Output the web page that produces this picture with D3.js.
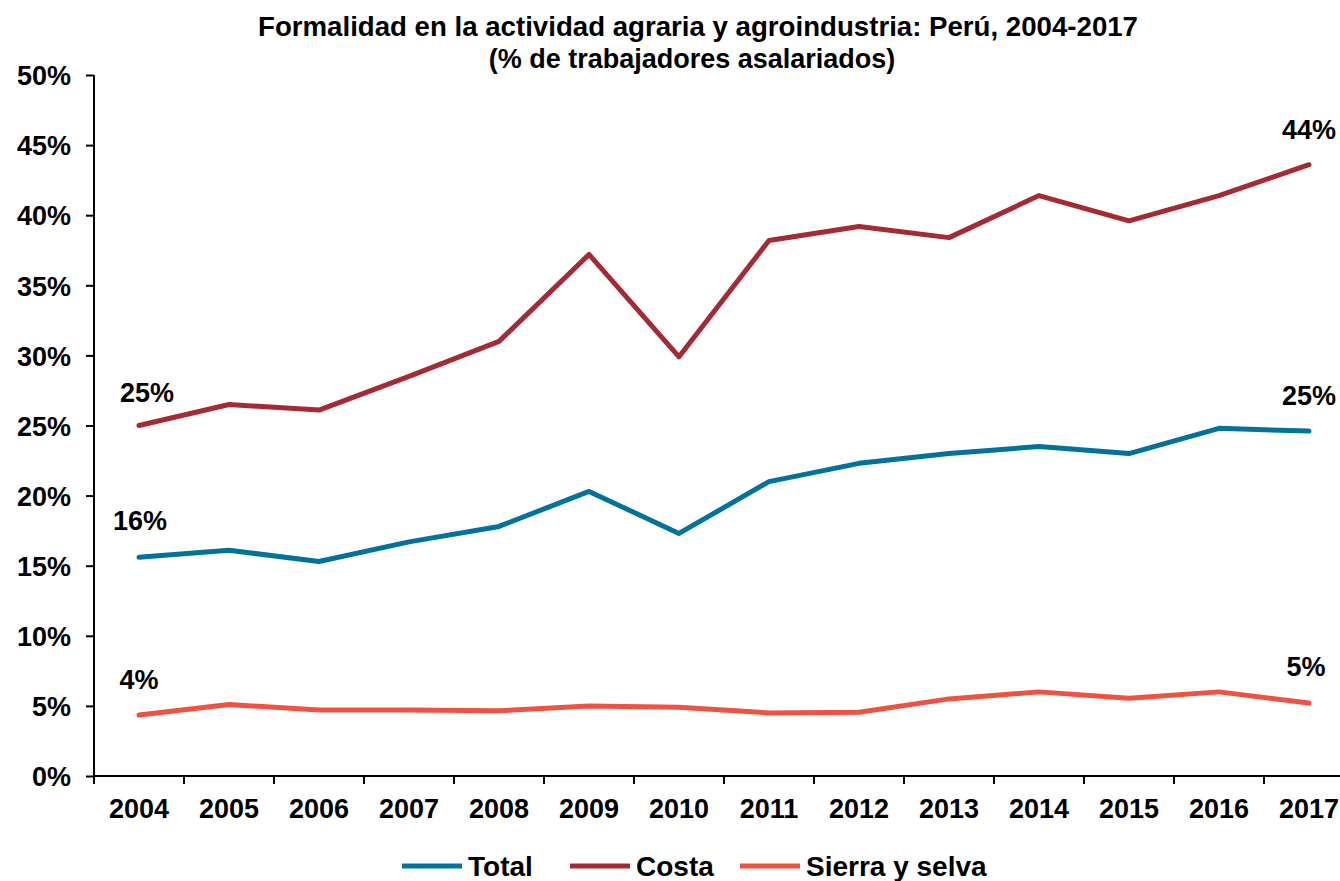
<!DOCTYPE html>
<html>
<head>
<meta charset="utf-8">
<style>
body { margin: 0; background: #fff; }
text { font-family: "Liberation Sans", Arial, sans-serif; font-weight: bold; fill: #000; }
</style>
</head>
<body>
<svg width="1340" height="881"></svg>
<script src="https://d3js.org/d3.v7.min.js"></script>
<script>
// values (percent of salaried workers)
var years = ["2004","2005","2006","2007","2008","2009","2010","2011","2012","2013","2014","2015","2016","2017"];
var total = [15.6, 16.1, 15.3, 16.7, 17.8, 20.3, 17.3, 21.0, 22.3, 23.0, 23.5, 23.0, 24.8, 24.6];
var costa = [25.0, 26.5, 26.1, 28.5, 31.0, 37.2, 29.9, 38.2, 39.2, 38.4, 41.4, 39.6, 41.4, 43.6];
var sierra = [4.35, 5.1, 4.7, 4.7, 4.65, 5.0, 4.9, 4.5, 4.55, 5.5, 6.0, 5.55, 6.0, 5.2];
var yTicks = [0, 5, 10, 15, 20, 25, 30, 35, 40, 45, 50];

var series = [
  {name: "Total", values: total, color: "#00729C"},
  {name: "Costa", values: costa, color: "#A52A33"},
  {name: "Sierra y selva", values: sierra, color: "#EF5143"}
];

var svg = d3.select("svg");

var x = d3.scaleBand().domain(years).range([94, 1354]);
var y = d3.scaleLinear().domain([0, 50]).range([776, 75]);

// title
svg.append("text").attr("x", 698).attr("y", 36).attr("text-anchor", "middle")
  .style("font-size", "27px").attr("textLength", 880).attr("lengthAdjust", "spacingAndGlyphs")
  .text("Formalidad en la actividad agraria y agroindustria: Perú, 2004-2017");
svg.append("text").attr("x", 692).attr("y", 68).attr("text-anchor", "middle")
  .style("font-size", "27px").text("(% de trabajadores asalariados)");

// y axis
var gy = svg.append("g").attr("transform", "translate(94,0)")
  .call(d3.axisLeft(y).tickValues(yTicks).tickSize(8).tickPadding(15).tickFormat(function(d){ return d + "%"; }));
gy.selectAll("text").style("font-size", "27px").attr("dy", "0.36em");
gy.selectAll("line, path").attr("stroke", "#000").attr("stroke-width", 2);
gy.select(".domain").attr("d", "M0,75V776");

// x axis
var gx = svg.append("g").attr("transform", "translate(0,776)");
gx.append("line").attr("x1", 94).attr("x2", 1354).attr("stroke", "#000").attr("stroke-width", 2);
gx.selectAll("line.tk").data(years.concat(["end"])).enter().append("line")
  .attr("class", "tk")
  .attr("x1", function(d, i){ return 94 + i * x.step(); })
  .attr("x2", function(d, i){ return 94 + i * x.step(); })
  .attr("y1", 0).attr("y2", 8).attr("stroke", "#000").attr("stroke-width", 2);
gx.selectAll("text").data(years).enter().append("text")
  .attr("x", function(d){ return x(d) + x.bandwidth() / 2; })
  .attr("y", 42).attr("text-anchor", "middle").style("font-size", "27px")
  .text(function(d){ return d; });

// lines
var line = d3.line()
  .x(function(d, i){ return x(years[i]) + x.bandwidth() / 2; })
  .y(function(d){ return y(d); });

svg.selectAll("path.series").data(series).enter().append("path")
  .attr("class", "series")
  .attr("d", function(d){ return line(d.values); })
  .attr("fill", "none")
  .attr("stroke", function(d){ return d.color; })
  .attr("stroke-width", 5)
  .attr("stroke-linejoin", "round")
  .attr("stroke-linecap", "round");

// end labels
var cx0 = x(years[0]) + x.bandwidth() / 2;
var cx1 = x(years[years.length - 1]) + x.bandwidth() / 2;
var labels = [
  {x: cx0 + 8, v: costa[0], dy: -24},
  {x: cx0 + 1, v: total[0], dy: -27},
  {x: cx0, v: sierra[0], dy: -26},
  {x: cx1, v: costa[13], dy: -26},
  {x: cx1, v: total[13], dy: -26},
  {x: cx1 - 3, v: sierra[13], dy: -27}
];
svg.selectAll("text.lbl").data(labels).enter().append("text")
  .attr("class", "lbl")
  .attr("x", function(d){ return d.x; })
  .attr("y", function(d){ return y(d.v) + d.dy; })
  .attr("text-anchor", "middle").style("font-size", "27px")
  .text(function(d){ return Math.round(d.v) + "%"; });

// legend
var legX = [402, 570, 740];
var leg = svg.selectAll("g.leg").data(series).enter().append("g")
  .attr("class", "leg")
  .attr("transform", function(d, i){ return "translate(" + legX[i] + ",866)"; });
leg.append("line").attr("x1", 0).attr("x2", 60)
  .attr("stroke", function(d){ return d.color; }).attr("stroke-width", 5);
leg.append("text").attr("x", 66).attr("y", 10).style("font-size", "28px")
  .text(function(d){ return d.name; });
</script>
</body>
</html>
